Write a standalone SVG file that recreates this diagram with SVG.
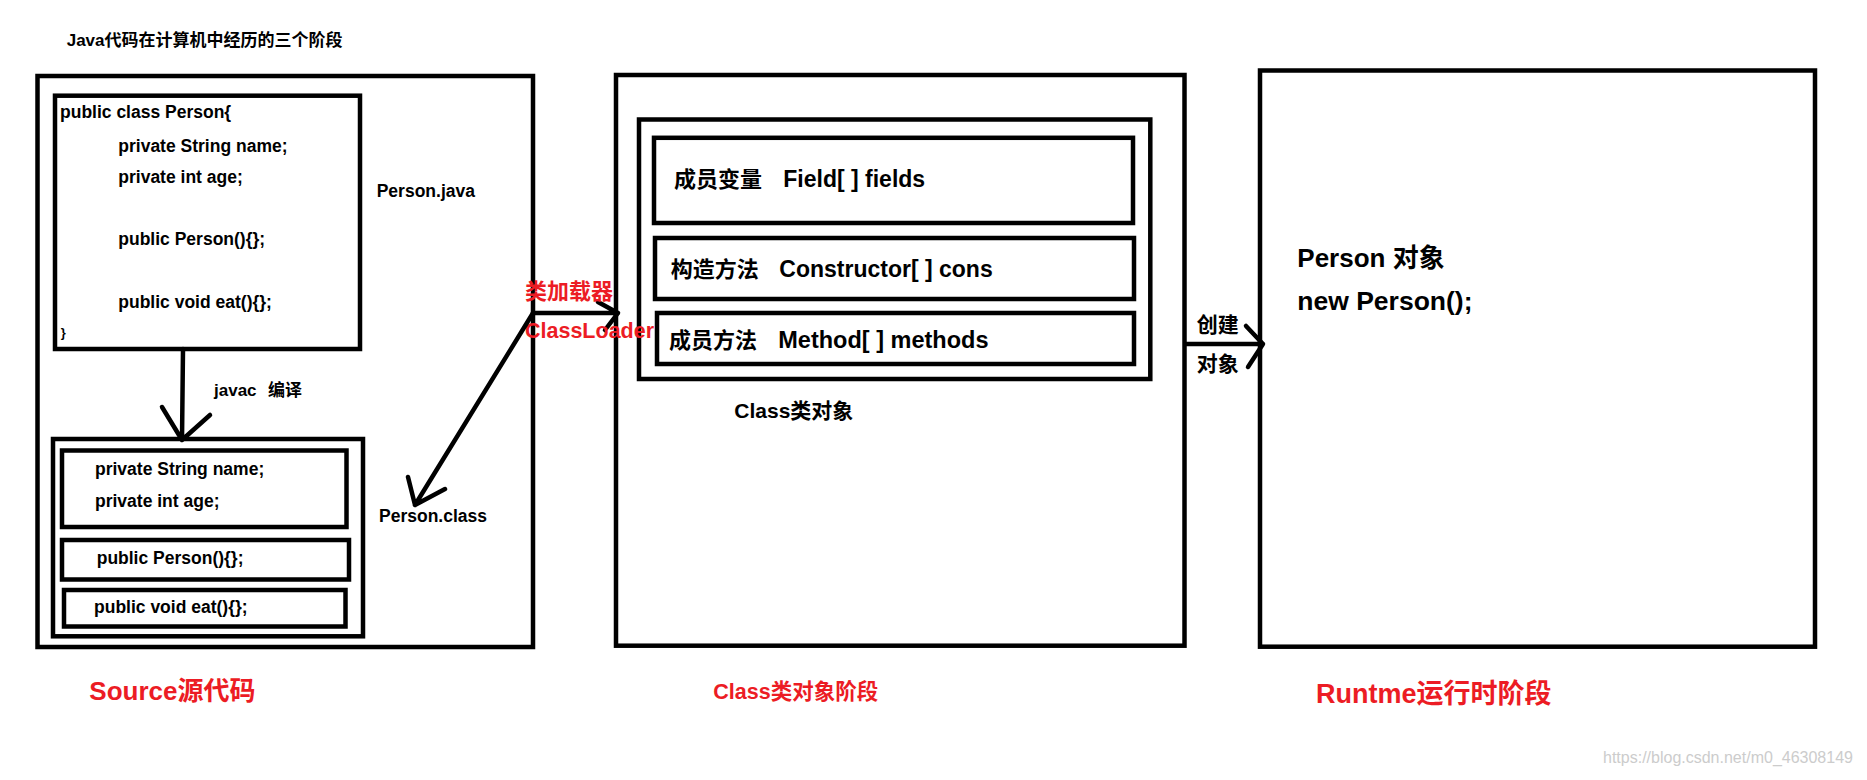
<svg xmlns="http://www.w3.org/2000/svg" width="1867" height="780" viewBox="0 0 1867 780">
<style>
.box{fill:none;stroke:#000;stroke-width:4.5}
.t{font-family:"Liberation Sans","Noto Sans CJK SC",sans-serif;font-weight:bold;fill:#000}
.code{font-size:17.5px}
.red{fill:#ec1c24}
.ln{fill:none;stroke:#000;stroke-width:4.5;stroke-linecap:round;stroke-linejoin:round}
</style>
<rect width="1867" height="780" fill="#fff"/>
<text class="t" x="66.7" y="46" font-size="17">Java代码在计算机中经历的三个阶段</text>

<g id="source-stage">
  <rect class="box" x="37.5" y="76" width="495.5" height="571"/>
  <text class="t red" x="89.3" y="700" font-size="26">Source源代码</text>
</g>

<g id="person-java">
  <rect class="box" x="55" y="95.7" width="305" height="253.3"/>
  <text class="t code" x="60" y="118.3">public class Person{</text>
  <text class="t code" x="118.3" y="151.7">private String name;</text>
  <text class="t code" x="118.3" y="183.3">private int age;</text>
  <text class="t code" x="118.3" y="245">public Person(){};</text>
  <text class="t code" x="118.3" y="308.3">public void eat(){};</text>
  <text class="t" x="60.7" y="336.7" font-size="13">}</text>
  <text class="t code" x="376.7" y="196.7">Person.java</text>
</g>

<g id="person-class">
  <rect class="box" x="53" y="439" width="310" height="197.3"/>
  <rect class="box" x="62" y="450.5" width="284.5" height="76.5"/>
  <text class="t code" x="95" y="475">private String name;</text>
  <text class="t code" x="95" y="506.7">private int age;</text>
  <rect class="box" x="62" y="540" width="287" height="39.5"/>
  <text class="t code" x="96.7" y="564">public Person(){};</text>
  <rect class="box" x="64" y="590" width="281.5" height="36.5"/>
  <text class="t code" x="94" y="613.3">public void eat(){};</text>
  <text class="t code" x="379" y="522.3">Person.class</text>
</g>

<g id="class-stage">
  <rect class="box" x="616" y="75" width="568.5" height="570.7"/>
  <rect class="box" x="639" y="119.5" width="511.3" height="259.5"/>
  <text class="t" x="734.3" y="418.3" font-size="21">Class类对象</text>
  <text class="t red" x="713.3" y="699.3" font-size="21.5">Class类对象阶段</text>
</g>

<g id="fields">
  <rect class="box" x="654" y="137.8" width="479" height="85.2"/>
  <text class="t" x="674" y="186.7" font-size="22">成员变量</text>
  <text class="t" x="783.3" y="186.7" font-size="23">Field[ ] fields</text>
</g>

<g id="constructors">
  <rect class="box" x="655" y="238" width="479" height="61"/>
  <text class="t" x="670.7" y="276.7" font-size="22">构造方法</text>
  <text class="t" x="779.3" y="276.7" font-size="23">Constructor[ ] cons</text>
</g>

<g id="methods">
  <rect class="box" x="657" y="313" width="477" height="51"/>
  <text class="t" x="669" y="348.3" font-size="22">成员方法</text>
  <text class="t" x="778.3" y="348.3" font-size="23.5">Method[ ] methods</text>
</g>

<g id="runtime-stage">
  <rect class="box" x="1260" y="70.5" width="555" height="576.2"/>
  <text class="t" x="1297.3" y="267.3" font-size="26">Person 对象</text>
  <text class="t" x="1297.3" y="310" font-size="26.5">new Person();</text>
  <text class="t red" x="1316" y="703.3" font-size="27">Runtme运行时阶段</text>
</g>

<g id="connectors">
  <path class="ln" d="M183 349 L182 440 M162 407 L182 440 L210 415"/>
  <text class="t" x="214" y="396" font-size="17">javac</text>
  <text class="t" x="268" y="396" font-size="17">编译</text>

  <path class="ln" d="M533 313 L618 313 M598 302 L618 313 L605 330"/>
  <text class="t red" x="525" y="299.3" font-size="22">类加载器</text>
  <text class="t red" x="525" y="338.3" font-size="21.5">ClassLoader</text>

  <path class="ln" d="M533 313 L415 505 M408 477 L415 505 L445 489"/>

  <path class="ln" d="M1186 344 L1263 344 M1246 326 L1263 344 L1248 367"/>
  <text class="t" x="1196.7" y="331.7" font-size="21">创建</text>
  <text class="t" x="1196.7" y="370.7" font-size="21">对象</text>
</g>

<text x="1603" y="763" font-family="Liberation Sans, sans-serif" font-size="16" fill="#cccccc">https://blog.csdn.net/m0_46308149</text>
</svg>
